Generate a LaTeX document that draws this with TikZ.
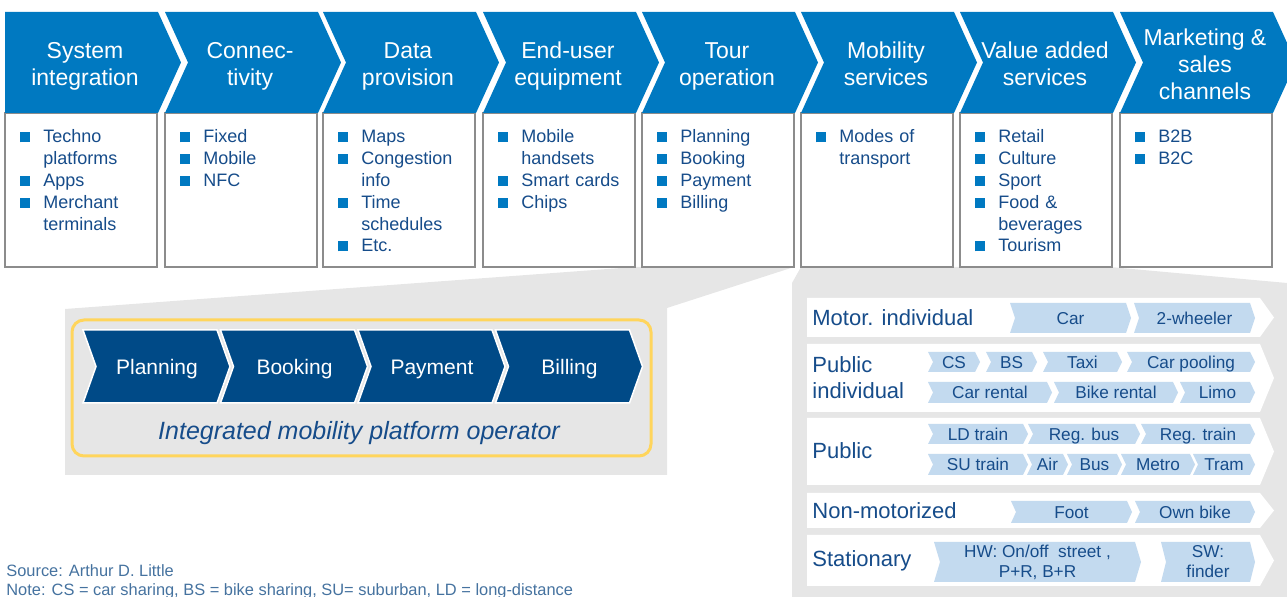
\documentclass[tikz,border=0pt]{standalone}
\usepackage{fontspec}
\setmainfont{Liberation Sans}
\usepackage{xcolor}
\usepackage{tikz}

\definecolor{adlblue}{HTML}{0079C1}
\definecolor{adlnavy}{HTML}{004A87}
\definecolor{adllite}{HTML}{C3DAEF}
\definecolor{adlgray}{HTML}{E6E6E6}
\definecolor{adlyellow}{HTML}{FFD55C}
\definecolor{adltext}{HTML}{164C8A}
\definecolor{adlnote}{HTML}{45729F}

% chevron path: x, y, width, height, tip depth, notch depth
\newcommand{\chev}[6]{(#1,#2) -- ++(#3,0) -- ++(#5,#4/2) -- ++(-#5,#4/2) -- ++(-#3,0) -- ++(#6,-#4/2) -- cycle}
% square bullet with hanging indent
\newcommand{\bul}[1]{\hangindent=11.5pt\hangafter=1\noindent\makebox[11.5pt][l]{\textcolor{adlblue}{\rule[0.3pt]{5pt}{5pt}}}#1\par}

\begin{document}
\begin{tikzpicture}[x=0.5pt, y=-0.5pt,
        box/.style={draw=black!45, line width=0.75pt, fill=white},
        hdr/.style={fill=adlblue},
        hdrtext/.style={text=white, align=center, inner sep=0pt, font=\fontsize{11.5}{13.5}\selectfont,
            execute at begin node=\strut, execute at end node=\strut},
        item/.style={text=adltext, text width=68pt, inner sep=0pt, anchor=base west, font=\fontsize{9}{10.9}\selectfont},
        navy/.style={fill=adlnavy, draw=white, line width=0.75pt},
        navytext/.style={text=white, inner sep=0pt, text height=7.5pt, text depth=0pt, font=\fontsize{10.5}{12}\selectfont},
        lite/.style={fill=adllite},
        lab/.style={text=adltext, inner sep=0pt, text height=6.2pt, text depth=0pt, font=\fontsize{8.6}{10}\selectfont},
        labtwo/.style={text=adltext, align=center, inner sep=0pt, font=\fontsize{8.6}{10}\selectfont},
        rowlab/.style={text=adltext, align=left, anchor=west, inner sep=0pt, font=\fontsize{11}{13}\selectfont},
        note/.style={text=adlnote, anchor=base west, inner sep=0pt, font=\fontsize{8.2}{9.5}\selectfont}]
        \useasboundingbox (0,0) rectangle (1287,597);
        \clip (0,0) rectangle (1287,597);

        % Zoom-out areas
        \fill[adlgray] (65,309) -- (635,267) -- (794,267) -- (667,308) -- (667,475) -- (65,475) -- cycle;
        \fill[adlgray] (792,283) -- (801,267) -- (1110,267) -- (1287,283) -- (1287,597) -- (792,597) -- cycle;

        % Value chain boxes
        \draw[box] (5,113) rectangle ++(152,154);
        \draw[box] (165,113) rectangle ++(152,154);
        \draw[box] (323,113) rectangle ++(152,154);
        \draw[box] (483,113) rectangle ++(152,154);
        \draw[box] (642,113) rectangle ++(152,154);
        \draw[box] (801,113) rectangle ++(152,154);
        \draw[box] (960,113) rectangle ++(152,154);
        \draw[box] (1120,113) rectangle ++(152,154);

        % Value chain headers
        \fill[hdr] \chev{5}{12}{153}{101}{23}{0};
        \node[hdrtext] (sysint) at (85,68) {System\\integration};
        \fill[hdr] \chev{165}{12}{153}{101}{23}{23};
        \node[hdrtext] (connect) at (250,68) {Connec-\\tivity};
        \fill[hdr] \chev{323}{12}{153}{101}{23}{23};
        \node[hdrtext] (dataprov) at (408,68) {Data\\provision};
        \fill[hdr] \chev{483}{12}{153}{101}{23}{23};
        \node[hdrtext] (enduser) at (568,68) {End-user\\equipment};
        \fill[hdr] \chev{642}{12}{153}{101}{23}{23};
        \node[hdrtext] (tourop) at (727,68) {Tour\\operation};
        \fill[hdr] \chev{801}{12}{153}{101}{23}{23};
        \node[hdrtext] (mobserv) at (886,68) {Mobility\\services};
        \fill[hdr] \chev{960}{12}{153}{101}{23}{23};
        \node[hdrtext] (valadd) at (1045,68) {Value added\\services};
        \fill[hdr] \chev{1120}{12}{153}{101}{23}{23};
        \node[hdrtext] (market) at (1205,68) {Marketing \&\\sales\\channels};

        % Value chain items
        \node[item] (sysintitems) at (20,143) {\bul{Techno\newline platforms}\bul{Apps}\bul{Merchant\newline terminals}};
        \node[item] (connectitems) at (180,143) {\bul{Fixed}\bul{Mobile}\bul{NFC}};
        \node[item] (dataprovitems) at (338,143) {\bul{Maps}\bul{Congestion\newline info}\bul{Time\newline schedules}\bul{Etc.}};
        \node[item] (enduseritems) at (498,143) {\bul{Mobile\newline handsets}\bul{Smart cards}\bul{Chips}};
        \node[item] (touropitems) at (657,143) {\bul{Planning}\bul{Booking}\bul{Payment}\bul{Billing}};
        \node[item] (mobservitems) at (816,143) {\bul{Modes of\newline transport}};
        \node[item] (valadditems) at (975,143) {\bul{Retail}\bul{Culture}\bul{Sport}\bul{Food \&\newline beverages}\bul{Tourism}};
        \node[item] (marketitems) at (1135,143) {\bul{B2B}\bul{B2C}};

        % Integrated mobility platform operator
        \draw[adlyellow, line width=1.5pt, rounded corners=6pt] (72,320) rectangle (651,456);
        \filldraw[navy] \chev{83}{330}{134}{73}{13}{13};
        \node[navytext] (planning) at (157,367) {Planning};
        \filldraw[navy] \chev{220.5}{330}{134}{73}{13}{13};
        \node[navytext] (booking) at (294.5,367) {Booking};
        \filldraw[navy] \chev{358}{330}{134}{73}{13}{13};
        \node[navytext] (payment) at (432,367) {Payment};
        \filldraw[navy] \chev{495.5}{330}{134}{73}{13}{13};
        \node[navytext] (billing) at (569.5,367) {Billing};
        \node[text=adltext, inner sep=0pt, font=\fontsize{12.5}{14}\selectfont\itshape] (impo) at (359,433) {Integrated mobility platform operator};

        % Modes of transport
        \fill[white] \chev{807}{298}{453}{39}{14}{0};
        \fill[white] \chev{807}{344}{453}{68}{14}{0};
        \fill[white] \chev{807}{418}{453}{67}{14}{0};
        \fill[white] \chev{807}{493}{453}{35}{14}{0};
        \fill[white] \chev{807}{535}{453}{51}{14}{0};
        \node[rowlab] (motor) at (812,318) {Motor. individual};
        \node[rowlab] (pubind) at (812,378) {Public\\individual};
        \node[rowlab] (public) at (812,451) {Public};
        \node[rowlab] (nonmotor) at (812,511) {Non-motorized};
        \node[rowlab] (station) at (812,561) {Stationary};

        % Motor. individual
        \fill[lite] \chev{1010}{303}{116}{30}{5}{5};
        \node[lab] (car) at (1070.5,318) {Car};
        \fill[lite] \chev{1134}{303}{116}{30}{5}{5};
        \node[lab] (twowheel) at (1194.5,318) {2-wheeler};

        % Public individual
        \fill[lite] \chev{928}{352}{47}{20}{5}{5};
        \node[lab] (cs) at (954,362) {CS};
        \fill[lite] \chev{986}{352}{46}{20}{5}{5};
        \node[lab] (bs) at (1011.5,362) {BS};
        \fill[lite] \chev{1043}{352}{74}{20}{5}{5};
        \node[lab] (taxi) at (1082.5,362) {Taxi};
        \fill[lite] \chev{1127}{352}{123}{20}{5}{5};
        \node[lab] (carpool) at (1191,362) {Car pooling};
        \fill[lite] \chev{928}{382}{119}{21}{5}{5};
        \node[lab] (carrent) at (990,392.5) {Car rental};
        \fill[lite] \chev{1054}{382}{119}{21}{5}{5};
        \node[lab] (bikerent) at (1116,392.5) {Bike rental};
        \fill[lite] \chev{1180}{382}{70}{21}{5}{5};
        \node[lab] (limo) at (1217.5,392.5) {Limo};

        % Public
        \fill[lite] \chev{928}{424}{95}{20}{5}{5};
        \node[lab] (ldtrain) at (978,434) {LD train};
        \fill[lite] \chev{1028}{424}{107}{20}{5}{5};
        \node[lab] (regbus) at (1084,434) {Reg. bus};
        \fill[lite] \chev{1141}{424}{109}{20}{5}{5};
        \node[lab] (regtrain) at (1198,434) {Reg. train};
        \fill[lite] \chev{928}{454}{95}{21}{5}{5};
        \node[lab] (sutrain) at (978,464.5) {SU train};
        \fill[lite] \chev{1027}{454}{36}{21}{5}{5};
        \node[lab] (air) at (1047.5,464.5) {Air};
        \fill[lite] \chev{1067}{454}{50}{21}{5}{5};
        \node[lab] (bus) at (1094.5,464.5) {Bus};
        \fill[lite] \chev{1121}{454}{69}{21}{5}{5};
        \node[lab] (metro) at (1158,464.5) {Metro};
        \fill[lite] \chev{1193}{454}{57}{21}{5}{5};
        \node[lab] (tram) at (1224,464.5) {Tram};

        % Non-motorized
        \fill[lite] \chev{1011}{501}{116}{22}{5}{5};
        \node[lab] (foot) at (1071.5,512) {Foot};
        \fill[lite] \chev{1135}{501}{115}{22}{5}{5};
        \node[lab] (ownbike) at (1195,512) {Own bike};

        % Stationary
        \fill[lite] \chev{934}{542}{201}{40}{6}{6};
        \node[labtwo] (hw) at (1037.5,562) {HW: On/off~ street ,\\P+R, B+R};
        \fill[lite] \chev{1161}{542}{89}{40}{5}{5};
        \node[labtwo] (sw) at (1208,562) {SW:\\finder};

        % Notes
        \node[note] (source) at (6,577) {Source: Arthur D. Little};
        \node[note] (legend) at (6,596) {Note: CS = car sharing, BS = bike sharing, SU= suburban, LD = long-distance};
\end{tikzpicture}
\end{document}
